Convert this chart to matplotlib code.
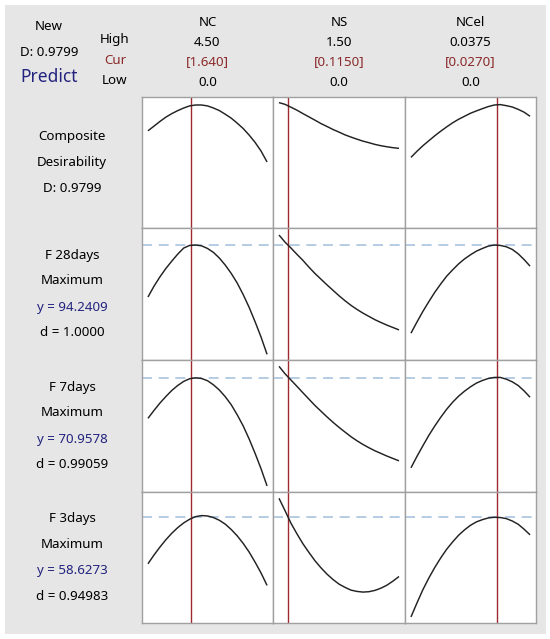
import matplotlib.pyplot as plt
from matplotlib.patches import Rectangle

# factor settings (x sample points of the traces)
nc_x = [0, 0.225, 0.45, 0.675, 0.9, 1.125, 1.35, 1.575, 1.8, 2.025, 2.25,
        2.475, 2.7, 2.925, 3.15, 3.375, 3.6, 3.825, 4.05, 4.275, 4.5]
ns_x = [0, 0.075, 0.15, 0.225, 0.3, 0.375, 0.45, 0.525, 0.6, 0.675, 0.75,
        0.825, 0.9, 0.975, 1.05, 1.125, 1.2, 1.275, 1.35, 1.425, 1.5]
ncel_x = [0, 0.001875, 0.00375, 0.005625, 0.0075, 0.009375, 0.01125, 0.013125,
          0.015, 0.016875, 0.01875, 0.020625, 0.0225, 0.024375, 0.02625,
          0.028125, 0.03, 0.031875, 0.03375, 0.035625, 0.0375]

factors = ["NC", "NS", "NCel"]
high = ["4.50", "1.50", "0.0375"]
low = ["0.0", "0.0", "0.0"]
cur_label = ["[1.640]", "[0.1150]", "[0.0270]"]
cur_value = [1.640, 0.1150, 0.0270]
lows = [0.0, 0.0, 0.0]
highs = [4.5, 1.5, 0.0375]

cd_nc = [0.742, 0.777, 0.813, 0.846, 0.873, 0.896, 0.916, 0.932, 0.939, 0.939, 0.932,
         0.916, 0.896, 0.868, 0.838, 0.800, 0.759, 0.709, 0.653, 0.587, 0.504]
cd_ns = [0.957, 0.944, 0.922, 0.899, 0.873, 0.848, 0.823, 0.797, 0.775, 0.752, 0.732,
         0.711, 0.694, 0.678, 0.663, 0.651, 0.638, 0.628, 0.620, 0.613, 0.608]
cd_ncel = [0.539, 0.585, 0.628, 0.666, 0.704, 0.739, 0.772, 0.803, 0.830, 0.853, 0.876,
           0.894, 0.911, 0.927, 0.939, 0.942, 0.934, 0.924, 0.906, 0.884, 0.853]

f28_nc = [0.477, 0.558, 0.629, 0.693, 0.749, 0.802, 0.848, 0.868, 0.871, 0.865, 0.845,
          0.815, 0.772, 0.718, 0.655, 0.582, 0.495, 0.398, 0.289, 0.173, 0.043]
f28_ns = [0.947, 0.893, 0.848, 0.800, 0.754, 0.703, 0.655, 0.612, 0.569, 0.528, 0.487,
          0.449, 0.414, 0.383, 0.355, 0.330, 0.305, 0.284, 0.264, 0.246, 0.228]
f28_ncel = [0.203, 0.287, 0.368, 0.442, 0.513, 0.576, 0.635, 0.683, 0.728, 0.766, 0.797,
            0.825, 0.845, 0.863, 0.871, 0.868, 0.858, 0.838, 0.805, 0.761, 0.711]

f7_nc = [0.558, 0.617, 0.673, 0.723, 0.769, 0.807, 0.838, 0.858, 0.865, 0.860, 0.843,
         0.812, 0.772, 0.721, 0.660, 0.584, 0.500, 0.401, 0.292, 0.175, 0.046]
f7_ns = [0.952, 0.896, 0.848, 0.800, 0.751, 0.703, 0.655, 0.612, 0.569, 0.528, 0.490,
         0.454, 0.419, 0.388, 0.360, 0.335, 0.312, 0.292, 0.272, 0.254, 0.236]
f7_ncel = [0.183, 0.269, 0.350, 0.429, 0.500, 0.566, 0.627, 0.680, 0.726, 0.764, 0.797,
           0.825, 0.845, 0.860, 0.868, 0.868, 0.855, 0.835, 0.807, 0.766, 0.718]

f3_nc = [0.452, 0.518, 0.579, 0.635, 0.685, 0.728, 0.764, 0.792, 0.812, 0.820, 0.817,
         0.805, 0.784, 0.754, 0.713, 0.665, 0.607, 0.541, 0.464, 0.381, 0.287]
f3_ns = [0.952, 0.858, 0.761, 0.680, 0.604, 0.538, 0.475, 0.421, 0.373, 0.332, 0.297,
         0.272, 0.251, 0.241, 0.236, 0.239, 0.249, 0.266, 0.289, 0.320, 0.355]
f3_ncel = [0.046, 0.152, 0.254, 0.343, 0.424, 0.497, 0.563, 0.619, 0.670, 0.711, 0.746,
           0.772, 0.789, 0.802, 0.807, 0.805, 0.797, 0.779, 0.754, 0.716, 0.673]

# predicted response level (dashed line), same scale
pred_level = [None, 0.868, 0.863, 0.807]

row_labels = [
    ["Composite", "Desirability", "D: 0.9799"],
    ["F 28days", "Maximum", "y = 94.2409", "d = 1.0000"],
    ["F 7days", "Maximum", "y = 70.9578", "d = 0.99059"],
    ["F 3days", "Maximum", "y = 58.6273", "d = 0.94983"],
]

traces = [
    [cd_nc, cd_ns, cd_ncel],
    [f28_nc, f28_ns, f28_ncel],
    [f7_nc, f7_ns, f7_ncel],
    [f3_nc, f3_ns, f3_ncel],
]
xs = [nc_x, ns_x, ncel_x]

W, H = 550, 639
plt.rcParams['font.family'] = ['Noto Sans', 'DejaVu Sans']
fig = plt.figure(figsize=(W / 100, H / 100), dpi=100)

GRAY = '#e6e6e6'
EDGE = '#a0a0a0'
RED = '#9e2a2f'
BLUE = '#23237f'
DARKRED = '#8b2a2a'
DASH = '#a9c4de'

fig.patches.append(Rectangle((5 / W, 1 - 634 / H), 541 / W, 629 / H,
                             transform=fig.transFigure, facecolor=GRAY,
                             edgecolor='none', zorder=-5))

def fx(px):
    return px / W

def fy(py):
    return 1 - py / H

col_edges = [142, 273, 405, 536]
row_edges = [97, 228, 360, 492, 623]
fs = 9.6

for r in range(4):
    for c in range(3):
        x0, x1 = col_edges[c], col_edges[c + 1]
        y0, y1 = row_edges[r], row_edges[r + 1]
        ax = fig.add_axes([fx(x0), fy(y1), (x1 - x0) / W, (y1 - y0) / H])
        ax.set_facecolor('white')
        pad = 0.05 * (highs[c] - lows[c])
        ax.set_xlim(lows[c] - pad, highs[c] + pad)
        ax.set_ylim(0, 1)
        ax.plot(xs[c], traces[r][c], color='#222222', lw=1.05, zorder=3,
                solid_joinstyle='round', solid_capstyle='butt')
        ax.axvline(cur_value[c], color=RED, lw=1.0, zorder=2)
        if pred_level[r] is not None:
            ax.axhline(pred_level[r], color=DASH, lw=1.2, dashes=(6, 4), zorder=1)
        ax.set_xticks([])
        ax.set_yticks([])
        for s in ax.spines.values():
            s.set_color(EDGE)
            s.set_linewidth(1.0)

# header block
fig.text(fx(49), fy(27), "New", ha='center', va='center', fontsize=fs)
fig.text(fx(49), fy(52), "D: 0.9799", ha='center', va='center', fontsize=fs)
fig.text(fx(49), fy(77), "Predict", ha='center', va='center', fontsize=12.5, color=BLUE)
fig.text(fx(115), fy(40), "High", ha='center', va='center', fontsize=fs)
fig.text(fx(115), fy(61), "Cur", ha='center', va='center', fontsize=fs, color=DARKRED)
fig.text(fx(115), fy(81), "Low", ha='center', va='center', fontsize=fs)

for c in range(3):
    cx = (col_edges[c] + col_edges[c + 1]) / 2
    fig.text(fx(cx), fy(23), factors[c], ha='center', va='center', fontsize=fs)
    fig.text(fx(cx), fy(43), high[c], ha='center', va='center', fontsize=fs)
    fig.text(fx(cx), fy(62), cur_label[c], ha='center', va='center', fontsize=fs, color=DARKRED)
    fig.text(fx(cx), fy(83), low[c], ha='center', va='center', fontsize=fs)

for r in range(4):
    lines = row_labels[r]
    mid = (row_edges[r] + row_edges[r + 1]) / 2
    start = mid - 26 * (len(lines) - 1) / 2
    for i, t in enumerate(lines):
        col = BLUE if t.startswith("y =") else 'black'
        fig.text(fx(72), fy(start + 26 * i), t, ha='center', va='center',
                 fontsize=fs, color=col)

fig.savefig("out.png", dpi=100)
